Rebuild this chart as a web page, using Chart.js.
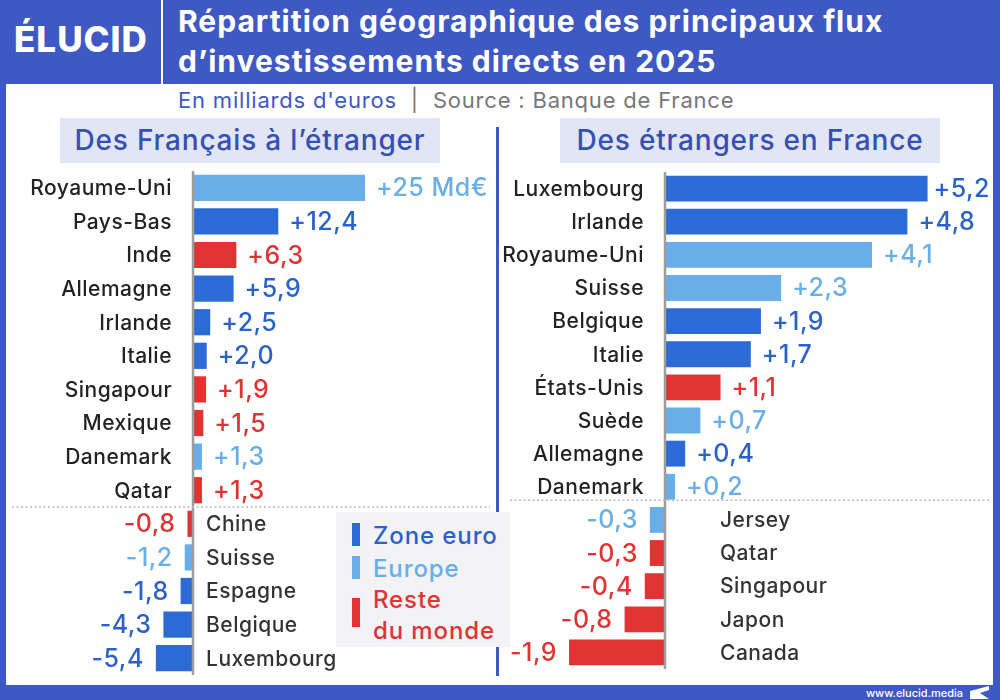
<!DOCTYPE html>
<html lang="fr">
<head>
<meta charset="utf-8">
<script src="https://cdn.jsdelivr.net/npm/chart.js@4.4.1/dist/chart.umd.min.js"></script>
<style>
  html, body { margin: 0; padding: 0; }
  body { width: 1000px; height: 700px; background: #3f59c4; position: relative; overflow: hidden; font-family: Inter, "Open Sans", sans-serif; }
  .abs { position: absolute; }
  #logo { left: 14px; top: 18px; color: #fff; font-size: 35px; font-weight: 800; letter-spacing: 1px; }
  #sep { left: 161px; top: 0; width: 2px; height: 84px; background: #fff; }
  #title { left: 178px; top: 1px; color: #fff; font-size: 30px; font-weight: 700; line-height: 40px; letter-spacing: 1px; white-space: nowrap; }
  #panel { left: 6px; top: 84px; width: 987px; height: 601px; background: #fff; }
  #subtitle { left: 178px; top: 87px; font-size: 22px; color: #3f59c4; font-weight: 400; letter-spacing: 0.8px; }
  #subtitle .grey { color: #777; }
  .head { top: 118px; height: 45px; background: #e2e5f5; color: #3550b5; font-size: 28px; font-weight: 500; text-align: center; line-height: 45px; letter-spacing: 0.8px; }
  #divider { left: 496px; top: 127px; width: 3px; height: 549px; background: #3f59c4; }
  canvas { position: absolute; }
  #legend { left: 336px; top: 512px; width: 174px; height: 135px; background: #f3f3f5; }
  .lg { position: absolute; left: 37px; font-size: 24px; font-weight: 500; line-height: 31px; letter-spacing: 0.9px; white-space: nowrap; }
  .mk { position: absolute; left: 16px; width: 8px; }
  #footer { left: 866px; top: 686px; color: #fff; font-size: 11px; font-weight: 500; }
</style>
</head>
<body>
<div id="logo" class="abs">ÉLUCID</div>
<div id="sep" class="abs"></div>
<div id="title" class="abs">Répartition géographique des principaux flux<br>d’investissements directs en 2025</div>
<div id="panel" class="abs"></div>
<div id="subtitle" class="abs">En milliards d'euros <span class="grey">&nbsp;|&nbsp; Source : Banque de France</span></div>
<div class="abs head" style="left:60px;width:380px;">Des Français à l’étranger</div>
<div class="abs head" style="left:560px;width:380px;">Des étrangers en France</div>
<div id="divider" class="abs"></div>
<canvas id="leftChart" width="480" height="504" style="left:10px;top:171px;"></canvas>
<canvas id="rightChart" width="490" height="497" style="left:500px;top:172px;"></canvas>
<div id="legend" class="abs">
  <div class="mk" style="top:11px;height:23px;background:#2c6bd5;"></div>
  <div class="lg" style="top:8px;color:#2c62c8;">Zone euro</div>
  <div class="mk" style="top:44px;height:23px;background:#68aee9;"></div>
  <div class="lg" style="top:41px;color:#68aee9;">Europe</div>
  <div class="mk" style="top:86px;height:29px;background:#e03333;"></div>
  <div class="lg" style="top:72px;color:#e03333;">Reste<br>du monde</div>
</div>
<div id="footer" class="abs">www.elucid.media
  <svg width="22" height="14" style="vertical-align:-3px;margin-left:2px"><polygon points="2,5 21,0 21,4 12,7 21,13 2,13" fill="#fff"/></svg>
</div>

<script>
// Des Français à l'étranger
const leftCountries = ['Royaume-Uni', 'Pays-Bas', 'Inde', 'Allemagne', 'Irlande', 'Italie', 'Singapour', 'Mexique', 'Danemark', 'Qatar',
  'Chine', 'Suisse', 'Espagne', 'Belgique', 'Luxembourg'];
const leftValues = [25, 12.4, 6.3, 5.9, 2.5, 2.0, 1.9, 1.5, 1.3, 1.3, -0.8, -1.2, -1.8, -4.3, -5.4];
const leftZones = ['europe', 'euro', 'monde', 'euro', 'euro', 'euro', 'monde', 'monde', 'europe', 'monde',
  'monde', 'europe', 'euro', 'euro', 'euro'];

// Des étrangers en France
const rightCountries = ['Luxembourg', 'Irlande', 'Royaume-Uni', 'Suisse', 'Belgique', 'Italie', 'États-Unis', 'Suède', 'Allemagne', 'Danemark',
  'Jersey', 'Qatar', 'Singapour', 'Japon', 'Canada'];
const rightValues = [5.2, 4.8, 4.1, 2.3, 1.9, 1.7, 1.1, 0.7, 0.4, 0.2, -0.3, -0.3, -0.4, -0.8, -1.9];
const rightZones = ['euro', 'euro', 'europe', 'europe', 'euro', 'euro', 'monde', 'europe', 'euro', 'europe',
  'europe', 'monde', 'monde', 'monde', 'monde'];

const zoneColors = { euro: '#2c6bd5', europe: '#68aee9', monde: '#e03333' };
const zoneText = { euro: '#2c62c8', europe: '#68aee9', monde: '#e03333' };

function fmt(v, i) {
    if (i === 0 && Number.isInteger(v)) return '+' + v + ' Md€';
    const s = Math.abs(v).toFixed(1).replace('.', ',');
    return (v >= 0 ? '+' : '-') + s;
}

const rowLabels = {
    id: 'rowLabels',
    afterDatasetsDraw(chart, args, opts) {
        const ctx = chart.ctx;
        const area = chart.chartArea;
        const xs = chart.scales.x;
        const ys = chart.scales.y;
        const zero = xs.getPixelForValue(0);
        const values = chart.data.datasets[0].data;
        const names = chart.data.labels;
        const bars = chart.getDatasetMeta(0).data;

        ctx.save();
        // axis line at zero
        ctx.strokeStyle = '#9d9d9d';
        ctx.lineWidth = 2.5;
        ctx.beginPath();
        ctx.moveTo(zero, area.top);
        ctx.lineTo(zero, area.bottom);
        ctx.stroke();

        // dotted separator between gains and losses
        const firstNeg = values.findIndex(v => v < 0);
        const sepY = (ys.getPixelForValue(firstNeg - 1) + ys.getPixelForValue(firstNeg)) / 2 + opts.sepShift;
        ctx.strokeStyle = '#b9b9b9';
        ctx.lineWidth = 1.5;
        ctx.setLineDash([2, 2.5]);
        ctx.beginPath();
        ctx.moveTo(opts.sepFrom, sepY);
        ctx.lineTo(opts.sepTo, sepY);
        ctx.stroke();
        ctx.setLineDash([]);

        ctx.textBaseline = 'middle';
        bars.forEach((bar, i) => {
            const v = values[i];
            const y = bar.y + 1;
            ctx.font = '500 21px Inter';
            ctx.letterSpacing = '0.5px';
            ctx.fillStyle = '#222';
            if (v >= 0) {
                ctx.textAlign = 'right';
                ctx.fillText(names[i], zero - 21, y);
            } else {
                ctx.textAlign = 'left';
                ctx.fillStyle = '#333';
                ctx.fillText(names[i], zero + opts.negNameGap, y);
            }
            ctx.font = '500 25px Inter';
            ctx.fillStyle = zoneText[opts.zones[i]];
            const txt = fmt(v, i);
            if (v >= 0) {
                const w = ctx.measureText(txt).width;
                let tx = bar.x + 11;
                if (tx + w > opts.maxRight) tx = opts.maxRight - w;
                ctx.textAlign = 'left';
                ctx.fillText(txt, tx, y);
            } else {
                ctx.textAlign = 'right';
                ctx.fillText(txt, bar.x - 12, y);
            }
        });
        ctx.restore();
    }
};

function makeChart(id, names, values, zones, xmin, xmax, extra) {
    return new Chart(document.getElementById(id), {
        type: 'bar',
        data: {
            labels: names,
            datasets: [{
                data: values,
                backgroundColor: zones.map(z => zoneColors[z]),
                borderWidth: 0,
                categoryPercentage: 1,
                barPercentage: 0.78
            }]
        },
        options: {
            indexAxis: 'y',
            responsive: false,
            animation: false,
            devicePixelRatio: 1,
            layout: { padding: 0 },
            scales: {
                x: { type: 'linear', min: xmin, max: xmax, display: false },
                y: { type: 'category', display: false, offset: true }
            },
            plugins: {
                legend: { display: false },
                tooltip: { enabled: false },
                rowLabels: Object.assign({ zones: zones }, extra)
            }
        },
        plugins: [rowLabels]
    });
}

// 6.88 px per milliard, zero at x=193 on the page
makeChart('leftChart', leftCountries, leftValues, leftZones, -26.6, 43.17,
    { negNameGap: 13, maxRight: 478, sepFrom: 2, sepTo: 482, sepShift: 0 });
// 50.5 px per milliard, zero at x=665 on the page
makeChart('rightChart', rightCountries, rightValues, rightZones, -3.267, 6.436,
    { negNameGap: 55, maxRight: 490, sepFrom: 10, sepTo: 490, sepShift: -3 });
</script>
</body>
</html>
